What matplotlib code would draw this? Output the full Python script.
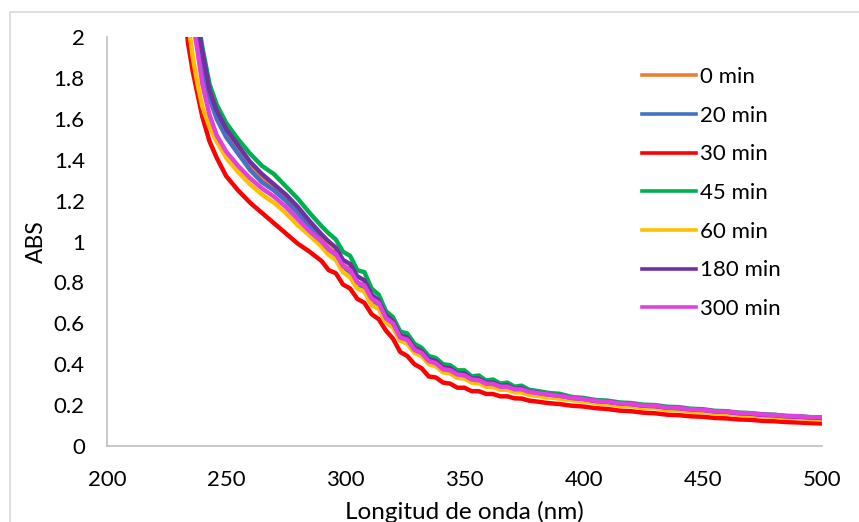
import matplotlib
matplotlib.use("Agg")
import matplotlib.pyplot as plt
from matplotlib.patches import Rectangle

plt.rcParams['font.family'] = ['Lato', 'DejaVu Sans']

# wavelength grid (nm)
wl = [232, 234, 236, 238, 240, 243, 246, 250, 255, 260, 265, 270, 275, 280, 285, 290,
      293, 296, 299, 302, 305, 308, 311, 314, 317, 320, 323, 326, 329, 332, 335, 338,
      341, 344, 347, 350, 353, 356, 359, 362, 365, 368, 371, 374, 377,
      380, 385, 390, 395, 400, 405, 410, 415, 420, 425, 430, 435, 440, 445, 450,
      455, 460, 465, 470, 475, 480, 485, 490, 495, 500]

abs_0 = [2.56, 2.36, 2.17, 2.02, 1.88, 1.71, 1.61, 1.52, 1.44, 1.365, 1.305, 1.26, 1.21, 1.15, 1.08, 1.01,
         0.97, 0.94, 0.885, 0.86, 0.80, 0.78, 0.72, 0.69, 0.62, 0.59, 0.525, 0.51, 0.465, 0.45, 0.41, 0.40,
         0.37, 0.363, 0.34, 0.337, 0.317, 0.313, 0.297, 0.295, 0.281, 0.28, 0.268, 0.267, 0.256,
         0.25, 0.242, 0.236, 0.227, 0.222, 0.213, 0.208, 0.201, 0.197, 0.19, 0.188, 0.18, 0.178, 0.171, 0.169,
         0.163, 0.161, 0.155, 0.153, 0.147, 0.145, 0.14, 0.138, 0.134, 0.132]

abs_20 = [2.55, 2.35, 2.16, 2.01, 1.87, 1.70, 1.60, 1.51, 1.43, 1.35, 1.29, 1.25, 1.20, 1.14, 1.07, 1.0,
          0.96, 0.93, 0.875, 0.85, 0.79, 0.77, 0.71, 0.685, 0.615, 0.585, 0.52, 0.505, 0.46, 0.445, 0.405, 0.395,
          0.365, 0.36, 0.338, 0.335, 0.315, 0.312, 0.295, 0.294, 0.28, 0.28, 0.268, 0.268, 0.256,
          0.252, 0.243, 0.238, 0.229, 0.224, 0.215, 0.21, 0.203, 0.199, 0.192, 0.19, 0.182, 0.18, 0.173, 0.171,
          0.165, 0.163, 0.157, 0.155, 0.149, 0.147, 0.142, 0.14, 0.136, 0.134]

abs_30 = [2.20, 1.97, 1.83, 1.72, 1.61, 1.49, 1.41, 1.32, 1.25, 1.19, 1.14, 1.09, 1.04, 0.99, 0.95, 0.905,
          0.86, 0.845, 0.79, 0.77, 0.72, 0.70, 0.645, 0.62, 0.565, 0.525, 0.46, 0.44, 0.40, 0.38, 0.34, 0.335,
          0.31, 0.305, 0.285, 0.285, 0.268, 0.268, 0.255, 0.254, 0.243, 0.243, 0.233, 0.232, 0.222,
          0.218, 0.21, 0.205, 0.197, 0.193, 0.185, 0.181, 0.173, 0.17, 0.163, 0.16, 0.153, 0.151, 0.145, 0.143,
          0.137, 0.135, 0.13, 0.128, 0.123, 0.121, 0.117, 0.115, 0.112, 0.11]

abs_45 = [2.70, 2.45, 2.25, 2.09, 1.95, 1.77, 1.67, 1.58, 1.50, 1.43, 1.37, 1.33, 1.27, 1.21, 1.14, 1.075,
          1.04, 1.01, 0.95, 0.93, 0.86, 0.85, 0.77, 0.74, 0.66, 0.63, 0.56, 0.55, 0.50, 0.48, 0.44, 0.43,
          0.40, 0.395, 0.37, 0.37, 0.34, 0.345, 0.32, 0.325, 0.305, 0.31, 0.29, 0.295, 0.275,
          0.27, 0.26, 0.255, 0.24, 0.235, 0.225, 0.222, 0.213, 0.21, 0.202, 0.20, 0.192, 0.19, 0.182, 0.18,
          0.172, 0.17, 0.163, 0.161, 0.155, 0.153, 0.147, 0.146, 0.141, 0.14]

abs_60 = [2.30, 2.08, 1.90, 1.77, 1.66, 1.56, 1.49, 1.41, 1.34, 1.28, 1.23, 1.19, 1.14, 1.08, 1.03, 0.975,
          0.935, 0.91, 0.85, 0.825, 0.77, 0.755, 0.69, 0.67, 0.605, 0.58, 0.515, 0.50, 0.455, 0.44, 0.40, 0.39,
          0.36, 0.355, 0.333, 0.33, 0.31, 0.307, 0.29, 0.289, 0.275, 0.275, 0.263, 0.262, 0.251,
          0.246, 0.238, 0.232, 0.224, 0.219, 0.21, 0.205, 0.198, 0.194, 0.187, 0.185, 0.177, 0.175, 0.168, 0.166,
          0.16, 0.158, 0.152, 0.15, 0.145, 0.143, 0.138, 0.136, 0.132, 0.13]

abs_180 = [2.65, 2.42, 2.22, 2.07, 1.93, 1.74, 1.64, 1.55, 1.47, 1.39, 1.33, 1.28, 1.23, 1.17, 1.10, 1.035,
           1.00, 0.97, 0.91, 0.89, 0.83, 0.81, 0.74, 0.71, 0.64, 0.61, 0.54, 0.53, 0.48, 0.465, 0.425, 0.415,
           0.385, 0.38, 0.355, 0.355, 0.33, 0.33, 0.31, 0.31, 0.295, 0.297, 0.28, 0.283, 0.267,
           0.262, 0.252, 0.247, 0.235, 0.23, 0.22, 0.216, 0.208, 0.205, 0.197, 0.195, 0.187, 0.185, 0.178, 0.176,
           0.169, 0.167, 0.16, 0.158, 0.152, 0.15, 0.145, 0.143, 0.139, 0.137]

abs_300 = [2.45, 2.25, 2.08, 1.93, 1.77, 1.62, 1.52, 1.44, 1.37, 1.31, 1.26, 1.22, 1.17, 1.11, 1.05, 1.0,
           0.96, 0.94, 0.88, 0.86, 0.80, 0.785, 0.72, 0.70, 0.625, 0.60, 0.53, 0.52, 0.47, 0.455, 0.415, 0.405,
           0.375, 0.37, 0.35, 0.345, 0.325, 0.322, 0.305, 0.303, 0.29, 0.29, 0.277, 0.277, 0.265,
           0.26, 0.252, 0.245, 0.236, 0.23, 0.221, 0.216, 0.209, 0.205, 0.198, 0.196, 0.188, 0.186, 0.179, 0.177,
           0.17, 0.168, 0.162, 0.16, 0.154, 0.152, 0.147, 0.145, 0.141, 0.14]

labels = ['0 min', '20 min', '30 min', '45 min', '60 min', '180 min', '300 min']
series = [abs_0, abs_20, abs_30, abs_45, abs_60, abs_180, abs_300]
colors = ['#ED7D31', '#4472C4', '#FF0000', '#00B050', '#FFC000', '#7030A0', '#E040E0']

x_ticks = [200, 250, 300, 350, 400, 450, 500]
y_ticks = [0, 0.2, 0.4, 0.6, 0.8, 1, 1.2, 1.4, 1.6, 1.8, 2]
y_ticklabels = ['0', '0.2', '0.4', '0.6', '0.8', '1', '1.2', '1.4', '1.6', '1.8', '2']

fig = plt.figure(figsize=(8.59, 5.22), dpi=100)
ax = fig.add_axes([107 / 859, 1 - 446 / 522, (822 - 107) / 859, (446 - 37) / 522])

for ys, lab, c in zip(series, labels, colors):
    ax.plot(wl, ys, color=c, lw=3.2, label=lab, solid_joinstyle='round')

ax.set_xlim(200, 500)
ax.set_ylim(0, 2)
ax.set_xticks(x_ticks)
ax.set_yticks(y_ticks)
ax.set_yticklabels(y_ticklabels)
ax.tick_params(length=0, labelsize=16, colors='#000000')
ax.tick_params(axis='x', pad=17)
ax.tick_params(axis='y', pad=16)

for s in ['top', 'right']:
    ax.spines[s].set_visible(False)
for s in ['left', 'bottom']:
    ax.spines[s].set_color('#BFBFBF')
    ax.spines[s].set_linewidth(1.2)

ax.set_ylabel('ABS', fontsize=16.5, labelpad=5)
ax.set_xlabel('Longitud de onda (nm)', fontsize=17.5, labelpad=8)

leg = ax.legend(loc='upper left', bbox_to_anchor=(642 / 859, 1 - 67 / 522),
                bbox_transform=fig.transFigure, frameon=False, fontsize=16,
                handlelength=2.45, handletextpad=0.15, labelspacing=0.84,
                borderpad=0, borderaxespad=0)
for line in leg.get_lines():
    line.set_linewidth(2.6)

# chart area border
fig.patches.append(Rectangle((10 / 859, -0.1), 1.0, 1 - 12 / 522 + 0.1,
                             transform=fig.transFigure, fill=False,
                             edgecolor='#D9D9D9', lw=1.2))

fig.savefig('out.png', dpi=100)
